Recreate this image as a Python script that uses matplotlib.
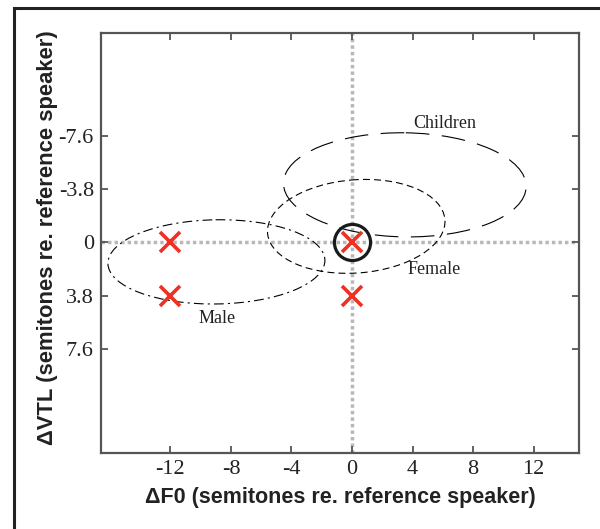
import numpy as np
import matplotlib
matplotlib.use("Agg")
import matplotlib.pyplot as plt
from matplotlib.patches import Ellipse, Rectangle

plt.rcParams['lines.scale_dashes'] = False

# tick values / labels
x_ticks = [-12, -8, -4, 0, 4, 8, 12]
y_ticks = [-7.6, -3.8, 0, 3.8, 7.6]
y_ticklabels = ["-7.6", "-3.8", "0", "3.8", "7.6"]

# red crosses (dF0, dVTL)
cross_f0 = [-12, -12, 0, 0]
cross_vtl = [0, 3.8, 0, 3.8]

# reference speaker
ref_f0 = [0]
ref_vtl = [0]

# speaker group ellipses: name, centre, semi axes, angle
groups = ["Male", "Female", "Children"]
centre_f0 = [-8.96, 0.28, 3.49]
centre_vtl = [1.39, -1.14, -4.1]
semi_f0 = [7.17, 5.88, 8.02]
semi_vtl = [3.0, 3.32, 3.71]
angles = [-1, -5, 1]
dash_styles = [(0, (7, 3, 1.5, 3)), (0, (5, 3)), (0, (17, 9))]
label_f0 = [-8.93, 5.45, 6.1]
label_vtl = [5.4, 1.9, -8.5]

fig = plt.figure(figsize=(6, 5.29), dpi=100)
fig.patches.append(Rectangle((14 / 600, -0.1), 1.2, 1 - 8 / 529 + 0.1,
                             transform=fig.transFigure, fill=False,
                             edgecolor="#222222", linewidth=2.2))
ax = fig.add_axes([0.168, 0.144, 0.797, 0.793])

ax.axhline(0, color="#b8b8b8", lw=2.5, ls=(0, (2.5, 2.2)), zorder=1)
ax.axvline(0, color="#b8b8b8", lw=2.5, ls=(0, (2.5, 2.2)), zorder=1)

for i in range(len(groups)):
    e = Ellipse((centre_f0[i], centre_vtl[i]), 2 * semi_f0[i], 2 * semi_vtl[i],
                angle=angles[i], fill=False, edgecolor="black", lw=0.8,
                linestyle=dash_styles[i], zorder=2)
    ax.add_patch(e)
    ax.text(label_f0[i], label_vtl[i], groups[i], family="Liberation Serif",
            fontsize=13, ha="center", va="center", color="#222222")

ax.plot(ref_f0, ref_vtl, "o", ms=26, mfc="none", mec="#1a1a1a", mew=2.3, zorder=3)
ax.plot(cross_f0, cross_vtl, "x", ms=15, mec="#ee3124", mew=2.6, ls="none", zorder=4)

ax.set_xlim(-16.6, 15.0)
ax.set_ylim(15.0, -14.9)
ax.set_xticks(x_ticks)
ax.set_xticklabels([str(t) for t in x_ticks])
ax.set_yticks(y_ticks)
ax.set_yticklabels(y_ticklabels)
ax.tick_params(direction="in", length=5, width=1.3, color="#555555",
               top=True, right=True, labelsize=16, pad=5)
for lab in ax.get_xticklabels() + ax.get_yticklabels():
    lab.set_family("Liberation Serif")
    lab.set_color("#222222")
for s in ax.spines.values():
    s.set_color("#555555")
    s.set_linewidth(1.6)

ax.set_xlabel("ΔF0 (semitones re. reference speaker)", family="Liberation Sans",
              fontweight="bold", fontsize=15.5, labelpad=6, color="#222222")
ax.set_ylabel("ΔVTL (semitones re. reference speaker)", family="Liberation Sans",
              fontweight="bold", fontsize=15.8, color="#222222")
ax.yaxis.set_label_coords(-0.09, 0.512)

fig.savefig("out.png", dpi=100)
